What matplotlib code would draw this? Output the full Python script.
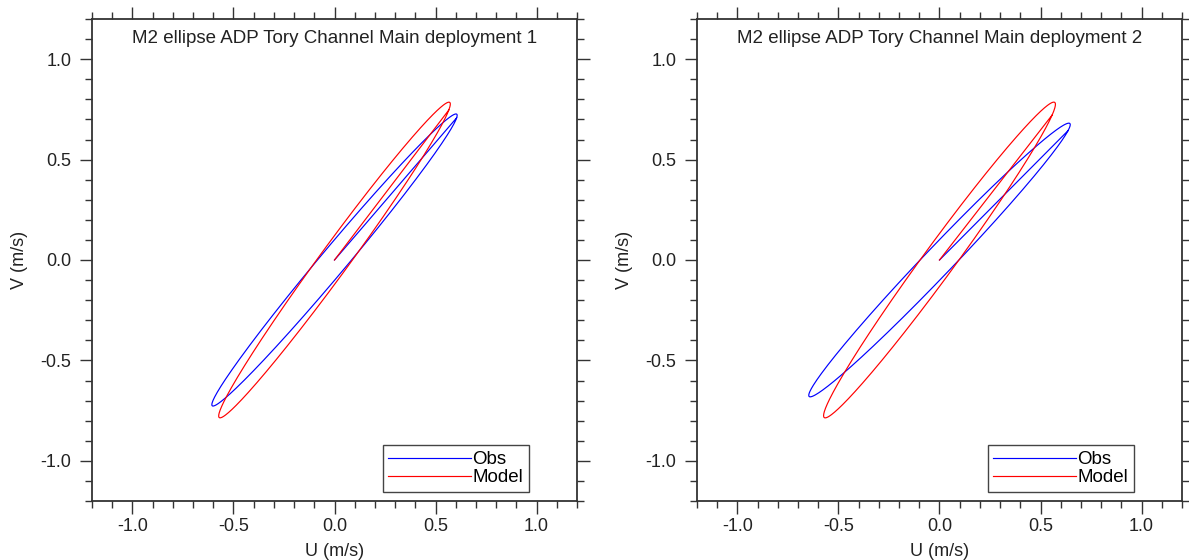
import numpy as np
import matplotlib
matplotlib.use("Agg")
import matplotlib.pyplot as plt
from matplotlib.ticker import MultipleLocator

plt.rcParams['font.family'] = ['Liberation Sans', 'DejaVu Sans']
plt.rcParams['axes.unicode_minus'] = False

### M2 tidal ellipse parameters
# semi-major (m/s), semi-minor (m/s), inclination (deg), phase (deg)
titles = ['M2 ellipse ADP Tory Channel Main deployment 1',
          'M2 ellipse ADP Tory Channel Main deployment 2']
series = ['Obs', 'Model']
colors = ['blue', 'red']

obs_sema = [0.945, 0.937]
obs_semi = [0.065, 0.070]
obs_inc = [50.2, 46.5]
obs_pha = [10.0, 15.0]

mod_sema = [0.970, 0.970]
mod_semi = [0.072, 0.078]
mod_inc = [54.0, 54.0]
mod_pha = [15.0, 20.0]

ticks = [-1.0, -0.5, 0.0, 0.5, 1.0]
lim = 1.2


def ellipse_uv(sema, semi, inc, pha):
    # trace one tidal cycle, drawn from the origin like the original
    t = np.linspace(0, 2 * np.pi, 361)
    a = sema * np.cos(t - np.radians(pha))
    b = semi * np.sin(t - np.radians(pha))
    th = np.radians(inc)
    u = a * np.cos(th) - b * np.sin(th)
    v = a * np.sin(th) + b * np.cos(th)
    return np.r_[0.0, u], np.r_[0.0, v]


fig = plt.figure(figsize=(11.89, 5.6), dpi=100)
lefts = [92 / 1189, 697 / 1189]

for i in range(2):
    ax = fig.add_axes([lefts[i], 59 / 560, 485 / 1189, 482 / 560])
    params = [(obs_sema[i], obs_semi[i], obs_inc[i], obs_pha[i]),
              (mod_sema[i], mod_semi[i], mod_inc[i], mod_pha[i])]
    for name, col, p in zip(series, colors, params):
        u, v = ellipse_uv(*p)
        ax.plot(u, v, color=col, lw=0.85, label=name)

    ax.set_xlim(-lim, lim)
    ax.set_ylim(-lim, lim)
    ax.set_xticks(ticks)
    ax.set_yticks(ticks)
    ax.xaxis.set_minor_locator(MultipleLocator(0.1))
    ax.yaxis.set_minor_locator(MultipleLocator(0.1))
    ax.tick_params(which='both', direction='out', top=True, right=True,
                   color='#333333', width=1.0)
    ax.tick_params(which='major', length=9, labelsize=13, labelcolor='#222222')
    ax.tick_params(axis='x', which='major', pad=3)
    ax.tick_params(axis='y', which='major', pad=6)
    ax.tick_params(which='minor', length=5)
    for s in ax.spines.values():
        s.set_color('#333333')
        s.set_linewidth(1.3)

    ax.set_xlabel('U (m/s)', fontsize=13, color='#222222', labelpad=6)
    ax.set_ylabel('V (m/s)', fontsize=13, color='#222222', labelpad=9)
    ax.text(0.5, 0.977, titles[i], transform=ax.transAxes, ha='center',
            va='top', fontsize=13.5, color='#222222')

    leg = ax.legend(loc='lower right', bbox_to_anchor=(0.901, 0.019),
                    borderaxespad=0, fancybox=False, framealpha=1,
                    edgecolor='#444444', handlelength=4.4, handletextpad=0.1,
                    labelspacing=0.05, borderpad=0.3, fontsize=13.5)
    leg.get_frame().set_linewidth(1.0)

fig.savefig('out.png', dpi=100)
